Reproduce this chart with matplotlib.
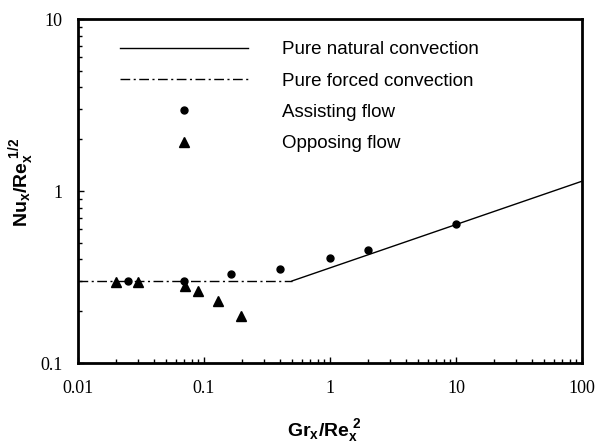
import numpy as np
import matplotlib
matplotlib.use("Agg")
import matplotlib.pyplot as plt

plt.rcParams['mathtext.fontset'] = 'custom'
plt.rcParams['mathtext.rm'] = 'Liberation Sans:bold'
plt.rcParams['mathtext.bf'] = 'Liberation Sans:bold'
plt.rcParams['mathtext.it'] = 'Liberation Sans:bold'

# correlations
natural_x = [0.5, 100]
natural_y = [0.3, 1.14]
forced_x = [0.01, 0.5]
forced_y = [0.3, 0.3]

# numerical results
assist_x = [0.025, 0.069, 0.165, 0.4, 1.0, 2.0, 10.0]
assist_y = [0.30, 0.30, 0.33, 0.353, 0.406, 0.456, 0.64]
oppose_x = [0.020, 0.030, 0.0705, 0.089, 0.13, 0.197]
oppose_y = [0.297, 0.297, 0.281, 0.263, 0.228, 0.188]

fig = plt.figure(figsize=(5.97, 4.47), dpi=100)
ax = fig.add_axes([78/597, 1-363/447, 504/597, 344/447])

ax.plot(natural_x, natural_y, color='black', lw=1.0, label='Pure natural convection')
ax.plot(forced_x, forced_y, color='black', lw=1.0, dashes=(7, 2.5, 1.5, 2.5),
        label='Pure forced convection')
ax.plot(assist_x, assist_y, 'o', color='black', ms=5, label='Assisting flow')
ax.plot(oppose_x, oppose_y, '^', color='black', ms=6.5, label='Opposing flow')

ax.set_xscale('log')
ax.set_yscale('log')
ax.set_xlim(0.01, 100)
ax.set_ylim(0.1, 10)
ax.set_xticks([0.01, 0.1, 1, 10, 100])
ax.set_xticklabels(['0.01', '0.1', '1', '10', '100'])
ax.set_yticks([0.1, 1, 10])
ax.set_yticklabels(['0.1', '1', '10'])

for s in ax.spines.values():
    s.set_linewidth(2.0)
ax.tick_params(which='both', direction='in', top=False, right=False, width=1.0)
ax.tick_params(which='major', length=4.5)
ax.tick_params(which='minor', length=3)
ax.tick_params(axis='x', which='major', pad=12)
ax.tick_params(axis='y', which='major', pad=11)
for lab in ax.get_xticklabels() + ax.get_yticklabels():
    lab.set_fontfamily('Liberation Serif')
    lab.set_fontsize(13)

ax.set_xlabel(r'$\mathbf{Gr_x/Re_x^{\ 2}}$', fontsize=14, va='baseline')
ax.xaxis.set_label_coords(0.488, -0.212)
ax.set_ylabel(r'$\mathbf{Nu_x/Re_x^{\ 1/2}}$', fontsize=14, va='baseline')
ax.yaxis.set_label_coords(-0.101, 0.526)

ax.legend(loc='upper left', bbox_to_anchor=(0.05, 0.985), frameon=False,
          handlelength=6.8, handletextpad=1.85, labelspacing=0.76,
          prop={'family': 'Liberation Sans', 'size': 13.5})

fig.savefig('out.png', dpi=100)
